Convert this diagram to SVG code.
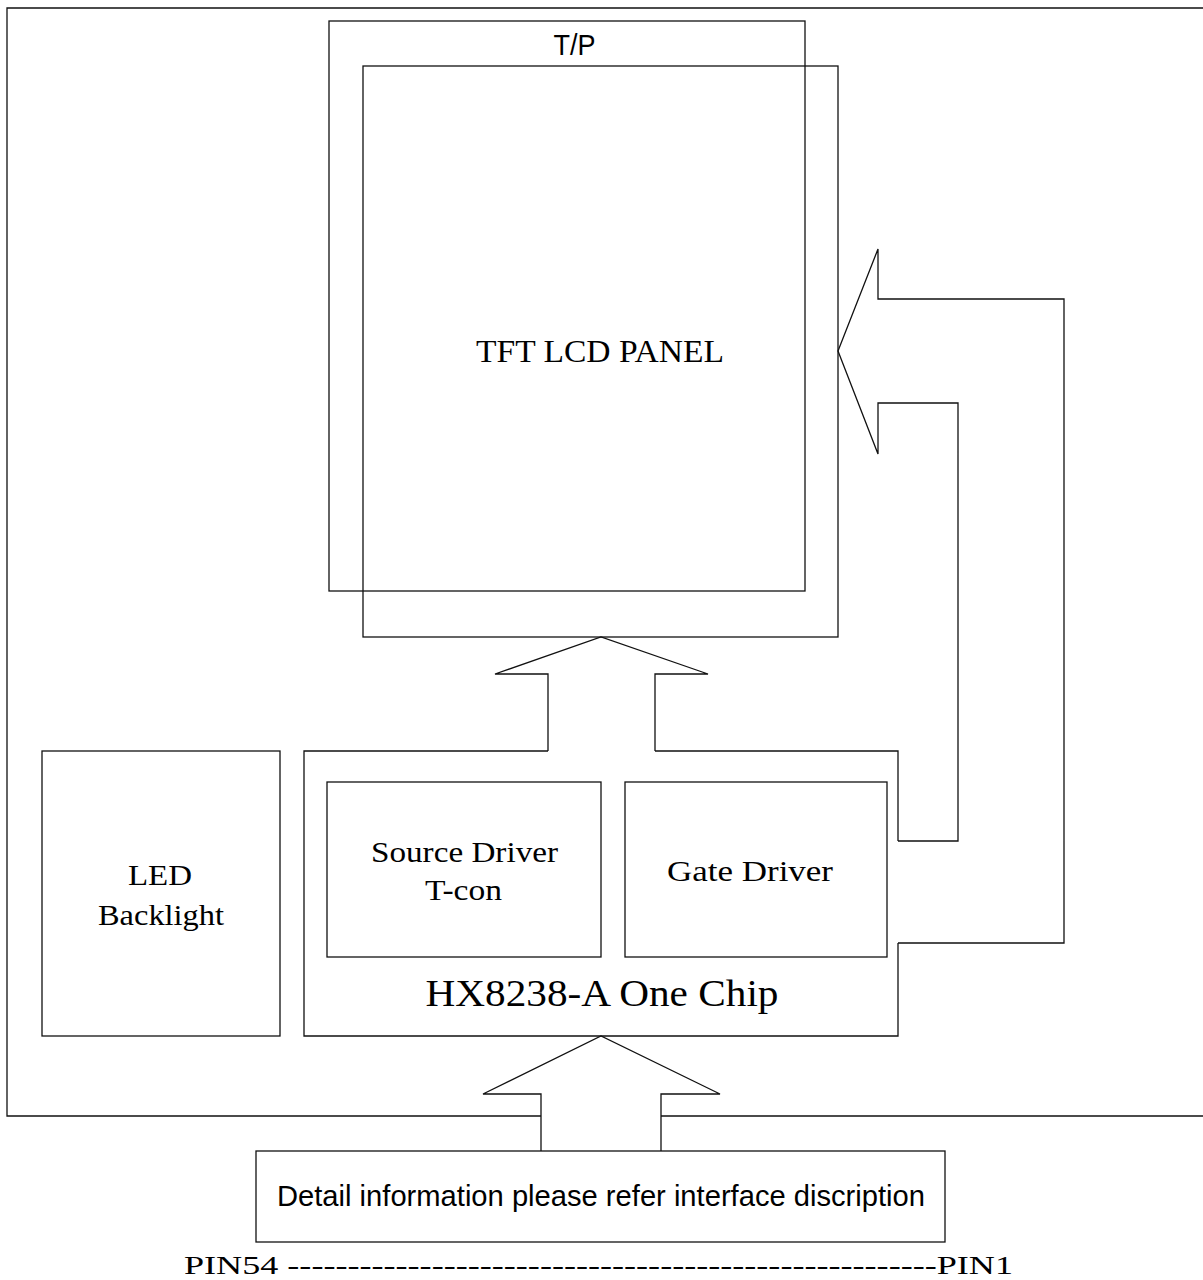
<svg xmlns="http://www.w3.org/2000/svg" width="1203" height="1280" viewBox="0 0 1203 1280">
<style>
.ln{fill:none;stroke:#111;stroke-width:1.3;stroke-linejoin:miter}
.bx{fill:none;stroke:#111;stroke-width:1.3}
.sf{font-family:"Liberation Serif","Times New Roman",serif;fill:#000;text-anchor:middle}
.ss{font-family:"Liberation Sans",Arial,sans-serif;fill:#000;text-anchor:middle}
</style>
<rect width="1203" height="1280" fill="#fff"/>
<g id="frame">
<path class="ln" d="M1204,8 H7 V1116 H541 M661,1116 H1204"/>
</g>
<g id="tp">
<rect class="bx" x="329" y="21" width="476" height="570"/>
<text class="ss" x="574.5" y="55" font-size="30" textLength="42" lengthAdjust="spacingAndGlyphs">T/P</text>
</g>
<g id="panel">
<rect class="bx" x="363" y="66" width="475" height="571"/>
<text class="sf" x="600" y="362" font-size="31" textLength="248" lengthAdjust="spacingAndGlyphs">TFT LCD PANEL</text>
</g>
<g id="led">
<rect class="bx" x="42" y="751" width="238" height="285"/>
<text class="sf" x="160" y="885" font-size="30" textLength="64" lengthAdjust="spacingAndGlyphs">LED</text>
<text class="sf" x="161" y="925" font-size="30" textLength="126" lengthAdjust="spacingAndGlyphs">Backlight</text>
</g>
<g id="chip">
<path class="ln" d="M548,751 H304 V1036 H898 V943 M898,841 V751 H655"/>
<text class="sf" x="602" y="1006" font-size="38" textLength="353" lengthAdjust="spacingAndGlyphs">HX8238-A One Chip</text>
</g>
<g id="source">
<rect class="bx" x="327" y="782" width="274" height="175"/>
<text class="sf" x="464.5" y="862" font-size="30" textLength="187" lengthAdjust="spacingAndGlyphs">Source Driver</text>
<text class="sf" x="463.5" y="900" font-size="30" textLength="77" lengthAdjust="spacingAndGlyphs">T-con</text>
</g>
<g id="gate">
<rect class="bx" x="625" y="782" width="262" height="175"/>
<text class="sf" x="750" y="881" font-size="30" textLength="166" lengthAdjust="spacingAndGlyphs">Gate Driver</text>
</g>
<g id="detail">
<rect class="bx" x="256" y="1151" width="689" height="91"/>
<text class="ss" x="601" y="1206" font-size="29" textLength="648" lengthAdjust="spacingAndGlyphs">Detail information please refer interface discription</text>
</g>
<g id="pins">
<text class="sf" x="598.5" y="1274" font-size="26" textLength="829" lengthAdjust="spacingAndGlyphs">PIN54 ------------------------------------------------------PIN1</text>
</g>
<g id="connectors">
<path class="ln" d="M548,751 V674 H495 L601,637 L708,674 H655 V751"/>
<path class="ln" d="M898,841 H958 V403 H878 V454 L838,351 L878,249 V299 H1064 V943 H898"/>
<path class="ln" d="M541,1151 V1094 H483 L601,1036 L720,1094 H661 V1151"/>
</g>
</svg>
